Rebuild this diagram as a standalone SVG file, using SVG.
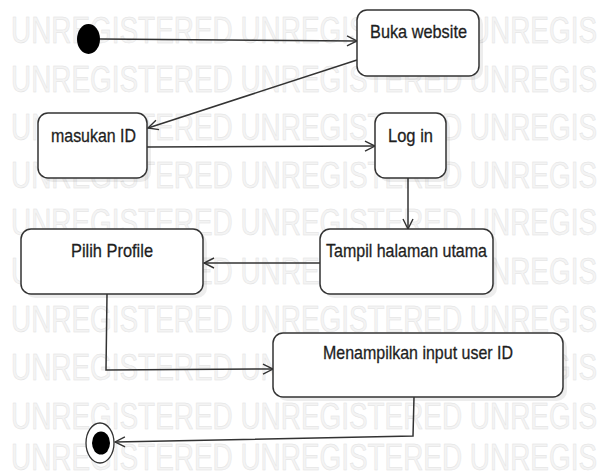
<svg xmlns="http://www.w3.org/2000/svg" width="601" height="474" viewBox="0 0 601 474">
<style>
.wm{font-family:"Liberation Sans",Arial,sans-serif;font-size:37px;fill:#f4f4f4;stroke:#e2e2e2;stroke-width:0.5}
.box{fill:#fff;stroke:#333;stroke-width:1.5}
.sh{fill:#000;opacity:0.07}
.lbl{font-family:"Liberation Sans",Arial,sans-serif;font-size:19px;fill:#1e1e1e;stroke:#1e1e1e;stroke-width:0.3}
.edge{fill:none;stroke:#333;stroke-width:1.5}
</style>
<defs>
<marker id="open" viewBox="0 0 12 12" refX="11" refY="6" markerWidth="12" markerHeight="12" markerUnits="userSpaceOnUse" orient="auto">
<path d="M1,1 L11,6 L1,11" fill="none" stroke="#333" stroke-width="1.4"/>
</marker>
</defs>
<rect width="601" height="474" fill="#fff"/>
<g id="watermark">
<text class="wm" x="11" y="43" textLength="586" lengthAdjust="spacingAndGlyphs">UNREGISTERED UNREGISTERED UNREGIS</text>
<text class="wm" x="11" y="92" textLength="586" lengthAdjust="spacingAndGlyphs">UNREGISTERED UNREGISTERED UNREGIS</text>
<text class="wm" x="11" y="140" textLength="586" lengthAdjust="spacingAndGlyphs">UNREGISTERED UNREGISTERED UNREGIS</text>
<text class="wm" x="11" y="188" textLength="586" lengthAdjust="spacingAndGlyphs">UNREGISTERED UNREGISTERED UNREGIS</text>
<text class="wm" x="11" y="235" textLength="586" lengthAdjust="spacingAndGlyphs">UNREGISTERED UNREGISTERED UNREGIS</text>
<text class="wm" x="11" y="284" textLength="586" lengthAdjust="spacingAndGlyphs">UNREGISTERED UNREGISTERED UNREGIS</text>
<text class="wm" x="11" y="332" textLength="586" lengthAdjust="spacingAndGlyphs">UNREGISTERED UNREGISTERED UNREGIS</text>
<text class="wm" x="11" y="380" textLength="586" lengthAdjust="spacingAndGlyphs">UNREGISTERED UNREGISTERED UNREGIS</text>
<text class="wm" x="11" y="429" textLength="586" lengthAdjust="spacingAndGlyphs">UNREGISTERED UNREGISTERED UNREGIS</text>
<text class="wm" x="11" y="470" textLength="586" lengthAdjust="spacingAndGlyphs">UNREGISTERED UNREGISTERED UNREGIS</text>
</g>
<g id="connectors">
<line class="edge" x1="100" y1="39" x2="357" y2="41" marker-end="url(#open)"/>
<line class="edge" x1="357" y1="60" x2="148" y2="128" marker-end="url(#open)"/>
<line class="edge" x1="147" y1="147" x2="375" y2="146" marker-end="url(#open)"/>
<line class="edge" x1="408" y1="178" x2="408" y2="229" marker-end="url(#open)"/>
<line class="edge" x1="320" y1="263" x2="204" y2="263" marker-end="url(#open)"/>
<polyline class="edge" points="107,294 106,370 273,369" marker-end="url(#open)"/>
<polyline class="edge" points="414,397 413,436 115,442" marker-end="url(#open)"/>
</g>
<g id="start">
<ellipse cx="88.5" cy="39" rx="11.5" ry="15" fill="#000"/>
</g>
<g id="buka-website">
<rect class="sh" x="361" y="14" width="122" height="66" rx="10"/>
<rect class="box" x="357" y="10" width="122" height="66" rx="10"/>
<text class="lbl" x="370" y="38" textLength="97" lengthAdjust="spacingAndGlyphs">Buka website</text>
</g>
<g id="masukan-id">
<rect class="sh" x="42" y="117" width="109" height="65" rx="10"/>
<rect class="box" x="38" y="113" width="109" height="65" rx="10"/>
<text class="lbl" x="51" y="142" textLength="85" lengthAdjust="spacingAndGlyphs">masukan ID</text>
</g>
<g id="log-in">
<rect class="sh" x="379" y="117" width="71" height="65" rx="10"/>
<rect class="box" x="375" y="113" width="71" height="65" rx="10"/>
<text class="lbl" x="388" y="142" textLength="45" lengthAdjust="spacingAndGlyphs">Log in</text>
</g>
<g id="tampil-halaman-utama">
<rect class="sh" x="324" y="233" width="173" height="65" rx="10"/>
<rect class="box" x="320" y="229" width="173" height="65" rx="10"/>
<text class="lbl" x="326" y="257" textLength="161" lengthAdjust="spacingAndGlyphs">Tampil halaman utama</text>
</g>
<g id="pilih-profile">
<rect class="sh" x="25" y="233" width="182" height="65" rx="10"/>
<rect class="box" x="21" y="229" width="182" height="65" rx="10"/>
<text class="lbl" x="71" y="257" textLength="82" lengthAdjust="spacingAndGlyphs">Pilih Profile</text>
</g>
<g id="menampilkan-input-user-id">
<rect class="sh" x="277" y="337" width="290" height="64" rx="10"/>
<rect class="box" x="273" y="333" width="290" height="64" rx="10"/>
<text class="lbl" x="323" y="359" textLength="190" lengthAdjust="spacingAndGlyphs">Menampilkan input user ID</text>
</g>
<g id="end">
<ellipse cx="100" cy="443" rx="14" ry="20" fill="#fff" stroke="#333" stroke-width="1.3"/>
<ellipse cx="101" cy="443" rx="9" ry="11.5" fill="#000"/>
</g>
</svg>
